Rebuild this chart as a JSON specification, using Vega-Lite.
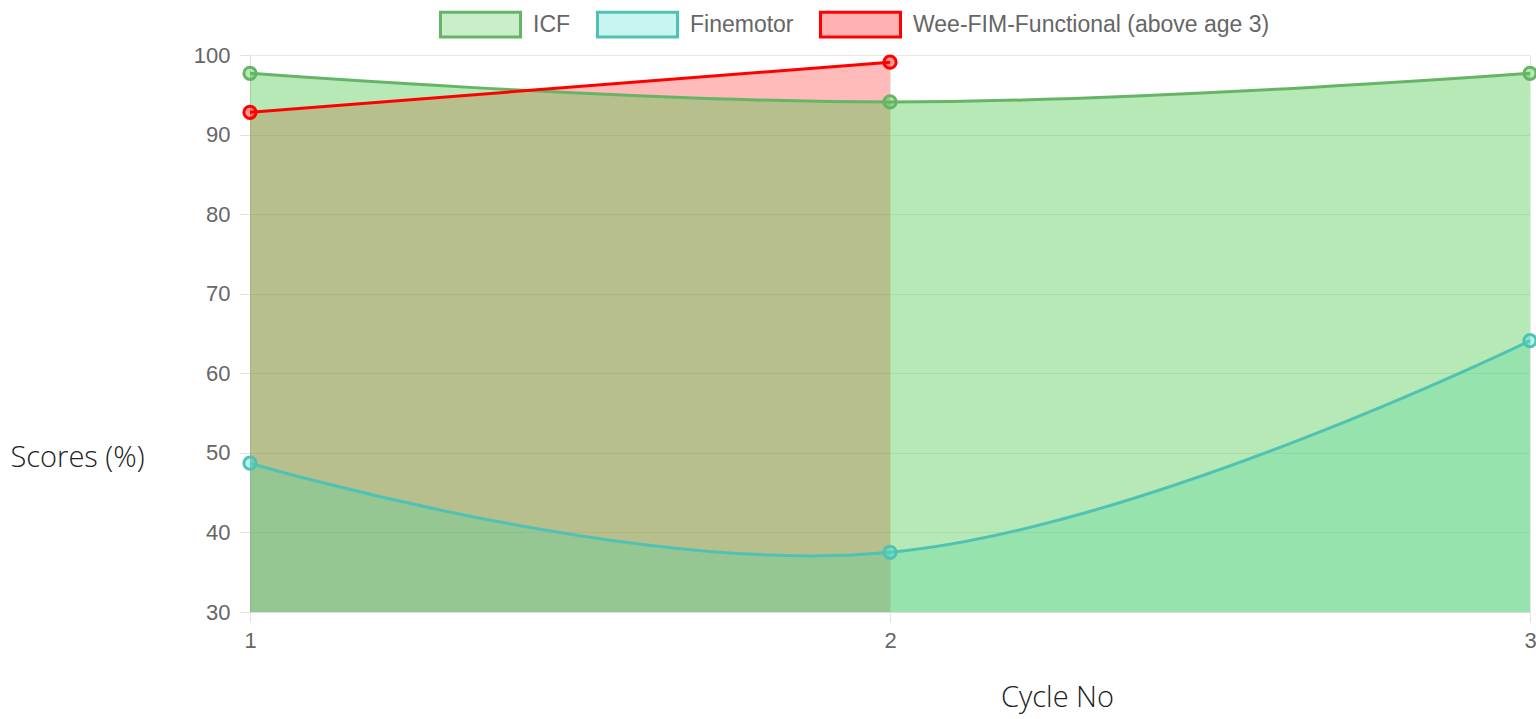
{
  "$schema": "https://vega.github.io/schema/vega-lite/v6.json",
  "width": 1280,
  "height": 557,
  "autosize": {"type": "none"},
  "padding": {"left": 250, "top": 55, "right": 6, "bottom": 107},
  "data": {
    "values": [
      {"cycle": 1, "series": "ICF", "score": 97.7},
      {"cycle": 2, "series": "ICF", "score": 94.1},
      {"cycle": 3, "series": "ICF", "score": 97.7},
      {"cycle": 1, "series": "Finemotor", "score": 48.7},
      {"cycle": 2, "series": "Finemotor", "score": 37.5},
      {"cycle": 3, "series": "Finemotor", "score": 64.1},
      {"cycle": 1, "series": "Wee-FIM-Functional (above age 3)", "score": 92.8},
      {"cycle": 2, "series": "Wee-FIM-Functional (above age 3)", "score": 99.1}
    ]
  },
  "config": {
    "view": {"stroke": null},
    "axis": {
      "gridColor": "#e8e8e8",
      "domainColor": "#dcdcdc",
      "tickColor": "#e0e0e0",
      "tickSize": 10,
      "labelFont": "Liberation Sans",
      "labelFontSize": 22,
      "labelColor": "#666666",
      "labelFlush": false,
      "labelOverlap": false,
      "labelBound": false,
      "titleFont": "Open Sans",
      "titleFontSize": 29,
      "titleFontWeight": 300,
      "titleColor": "#222222"
    }
  },
  "encoding": {
    "x": {
      "field": "cycle",
      "type": "quantitative",
      "scale": {"domain": [1, 3], "nice": false, "zero": false},
      "axis": {
        "tickCount": 3,
        "format": "d",
        "title": "Cycle No",
        "titleX": 807,
        "titleY": 85,
        "titleAlign": "center",
        "titleBaseline": "middle",
        "labelPadding": 8
      }
    },
    "y": {
      "field": "score",
      "type": "quantitative",
      "scale": {"domain": [30, 100], "nice": false, "zero": false},
      "axis": {
        "values": [30, 40, 50, 60, 70, 80, 90, 100],
        "format": "d",
        "title": "Scores (%)",
        "titleAngle": 0,
        "titleX": -240,
        "titleY": 402,
        "titleAlign": "left",
        "titleBaseline": "middle",
        "labelPadding": 10
      }
    }
  },
  "layer": [
    {
      "transform": [{"filter": "datum.series === 'Wee-FIM-Functional (above age 3)'"}],
      "mark": {"type": "area", "interpolate": "cardinal", "tension": -0.2, "fillOpacity": 0.27},
      "encoding": {
        "y2": {"datum": 30},
        "color": {
          "field": "series",
          "type": "nominal",
          "sort": null,
          "scale": {
            "domain": ["ICF", "Finemotor", "Wee-FIM-Functional (above age 3)"],
            "range": ["#4cc84c", "#48decd", "#ff0000"]
          },
          "legend": {
            "title": null,
            "orient": "none",
            "direction": "horizontal",
            "legendX": 189,
            "legendY": -72,
            "symbolType": "M-1,-0.31H1V0.31H-1Z",
            "symbolSize": 6400,
            "symbolStrokeWidth": 3,
            "labelFont": "Liberation Sans",
            "labelFontSize": 23,
            "labelColor": "#666666",
            "labelLimit": 500,
            "labelOffset": 11,
            "columnPadding": 20,
            "encode": {
              "symbols": {
                "update": {
                  "stroke": {"scale": "stroke", "field": "value"},
                  "fillOpacity": {"value": 0.3},
                  "strokeWidth": {"value": 3}
                }
              }
            }
          }
        }
      }
    },
    {
      "transform": [{"filter": "datum.series === 'Finemotor'"}],
      "mark": {"type": "area", "interpolate": "cardinal", "tension": -0.2, "fillOpacity": 0.3},
      "encoding": {
        "y2": {"datum": 30},
        "color": {"field": "series", "type": "nominal", "sort": null}
      }
    },
    {
      "transform": [{"filter": "datum.series === 'ICF'"}],
      "mark": {"type": "area", "interpolate": "cardinal", "tension": -0.2, "fillOpacity": 0.4},
      "encoding": {
        "y2": {"datum": 30},
        "color": {"field": "series", "type": "nominal", "sort": null}
      }
    },
    {
      "mark": {"type": "line", "interpolate": "cardinal", "tension": -0.2, "strokeWidth": 3},
      "encoding": {
        "detail": {"field": "series", "type": "nominal"},
        "stroke": {
          "field": "series",
          "type": "nominal",
          "scale": {
            "domain": ["ICF", "Finemotor", "Wee-FIM-Functional (above age 3)"],
            "range": ["#66b566", "#4fc2b3", "#ff0000"]
          },
          "legend": null
        }
      }
    },
    {
      "mark": {"type": "point", "shape": "circle", "size": 150, "strokeWidth": 3, "fillOpacity": 0.4, "opacity": 1},
      "encoding": {
        "stroke": {"field": "series", "type": "nominal", "legend": null},
        "fill": {
          "field": "series",
          "type": "nominal",
          "scale": {
            "domain": ["ICF", "Finemotor", "Wee-FIM-Functional (above age 3)"],
            "range": ["#4cc84c", "#48decd", "#ff0000"]
          },
          "legend": null
        }
      }
    }
  ]
}
